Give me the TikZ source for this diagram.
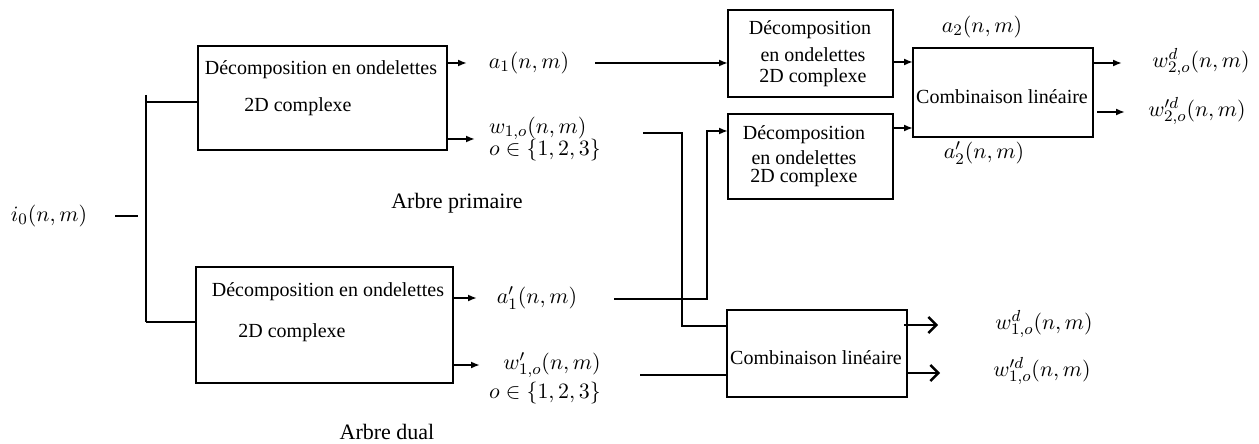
\documentclass[tikz,border=0pt]{standalone}
\usepackage[no-math]{fontspec}
\setmainfont{Liberation Serif}
\usetikzlibrary{arrows.meta}
\begin{document}
\begin{tikzpicture}[x=0.5pt,y=-0.5pt,
  line width=1.2pt,
  box/.style={draw,line width=1.3pt,inner sep=0pt,outer sep=0pt},
  txt/.style={inner sep=0pt,font=\fontsize{10}{12}\selectfont},
  lab/.style={inner sep=0pt,font=\fontsize{11}{13}\selectfont},
  arr/.style={-{Latex[length=4.5pt,width=3.5pt]}},
  barb/.style={-{Straight Barb[length=4pt,width=8pt]}},
]
\useasboundingbox (0,0) rectangle (1259,444);

% boxes
\node[box,minimum width=124.5pt,minimum height=52pt] (dec1) at (322.5,98) {};
\node[box,minimum width=128.5pt,minimum height=58pt] (dec2) at (324.5,325) {};
\node[box,minimum width=82.5pt,minimum height=43.5pt] (dec3) at (810.5,53.5) {};
\node[box,minimum width=82.5pt,minimum height=42.5pt] (dec4) at (810.5,156.5) {};
\node[box,minimum width=90pt,minimum height=44.5pt] (comb1) at (1003,92.5) {};
\node[box,minimum width=90pt,minimum height=43.5pt] (comb2) at (817,353.5) {};

% texts in boxes
\node[txt] (t1a) at (321,70) {Décomposition en ondelettes};
\node[txt] (t1b) at (298,107) {2D complexe};
\node[txt] (t2a) at (328,292) {Décomposition en ondelettes};
\node[txt] (t2b) at (292,333) {2D complexe};
\node[txt] (t3a) at (810,30) {Décomposition};
\node[txt] (t3b) at (813,55) {en ondelettes};
\node[txt] (t3c) at (813,78) {2D complexe};
\node[txt] (t4a) at (804,135) {Décomposition};
\node[txt] (t4b) at (804,158) {en ondelettes};
\node[txt] (t4c) at (804,178) {2D complexe};
\node[txt] (t5) at (1002,97) {Combinaison linéaire};
\node[txt] (t6) at (816,358) {Combinaison linéaire};

% labels
\node[lab] (i0) at (49,216) {$i_0(n,m)$};
\node[lab] (a1) at (529,63) {$a_1(n,m)$};
\node[lab,anchor=west] (w1) at (488,128) {$w_{1,o}(n,m)$};
\node[lab,anchor=west] (o1) at (488,150) {$o\in\{1,2,3\}$};
\node[lab] (ap) at (457,203) {Arbre primaire};
\node[lab] (a1p) at (537,298) {$a'_1(n,m)$};
\node[lab] (w1p) at (552,365) {$w'_{1,o}(n,m)$};
\node[lab] (o1p) at (545,393) {$o\in\{1,2,3\}$};
\node[lab] (ad) at (387,432) {Arbre dual};
\node[lab] (a2) at (982,27) {$a_2(n,m)$};
\node[lab] (a2p) at (984,153) {$a'_2(n,m)$};
\node[lab] (w2d) at (1201,62) {$w^d_{2,o}(n,m)$};
\node[lab] (w2dp) at (1197,111) {$w'^d_{2,o}(n,m)$};
\node[lab] (w1d) at (1044,324) {$w^d_{1,o}(n,m)$};
\node[lab] (w1dp) at (1042,371) {$w'^d_{1,o}(n,m)$};

% input bus
\coordinate (ins) at (115,216);
\coordinate (ine) at (138,216);
\coordinate (busT) at (146,95);
\coordinate (j1) at (146,102);
\coordinate (j2) at (146,322);
\draw (ins) -- (ine);
\draw (busT) -- (j2);
\draw (j1) -- (dec1.west |- j1);
\draw (j2) -- (dec2.west |- j2);

% outputs of first stage
\draw[arr] (dec1.east |- 0,63) -- ++(20,0);
\draw[arr] (dec1.east |- 0,139) -- ++(28,0);
\draw[arr] (dec2.east |- 0,298) -- ++(24,0);
\draw[arr] (dec2.east |- 0,365) -- ++(27,0);

% a1 to dec3
\coordinate (a1o) at (595,63);
\draw[arr] (a1o) -- (dec3.west |- a1o);

% w1 to comb2
\coordinate (w1o) at (643,133);
\coordinate (w1k) at (682,326);
\draw (w1o) -| (w1k) -- (comb2.west |- w1k);

% a1' to dec4
\coordinate (a1po) at (614,299);
\coordinate (a1pt) at (707,131);
\draw[arr] (a1po) -| (a1pt) -- (dec4.west |- a1pt);

% w1' to comb2
\coordinate (w1po) at (640,375);
\draw (w1po) -- (comb2.west |- w1po);

% second stage to comb1
\draw[arr] (dec3.east |- 0,62) -- (comb1.west |- 0,62);
\draw[arr] (dec4.east |- 0,128) -- (comb1.west |- 0,128);

% comb outputs
\draw[arr] (comb1.east |- 0,63) -- ++(29,0);
\draw[arr] ([xshift=2pt]comb1.east |- 0,112) -- ++(28,0);
\draw[barb] ([xshift=-1.5pt]comb2.east |- 0,325) -- ++(34,0);
\draw[barb] (comb2.east |- 0,373) -- ++(33,0);
\end{tikzpicture}
\end{document}
